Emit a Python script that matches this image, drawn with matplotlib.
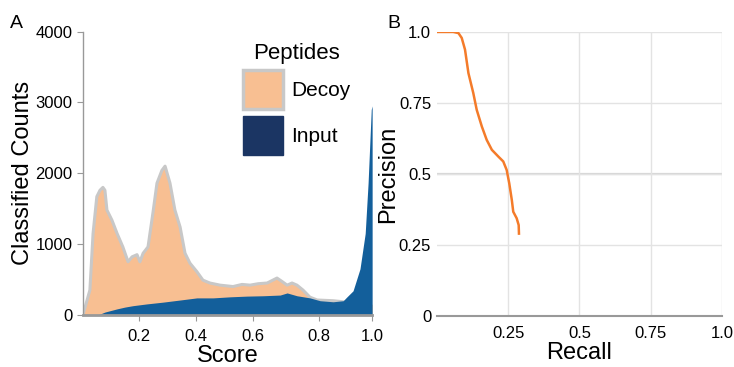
import numpy as np
import matplotlib.pyplot as plt
from matplotlib.patches import Patch

plt.rcParams['font.family'] = ['Liberation Sans', 'DejaVu Sans']

# panel A: score histogram (x given as position along score axis)
decoy_x = [0.0, 0.024, 0.035, 0.048, 0.059, 0.069, 0.076, 0.083, 0.100, 0.118,
           0.138, 0.156, 0.170, 0.187, 0.197, 0.208, 0.225, 0.242, 0.256, 0.273,
           0.284, 0.301, 0.318, 0.336, 0.353, 0.370, 0.394, 0.415, 0.439, 0.474,
           0.519, 0.550, 0.578, 0.606, 0.637, 0.671, 0.689, 0.706, 0.723, 0.740,
           0.761, 0.785, 0.810, 0.865, 0.900, 0.941, 1.0]
decoy_y = [0, 350, 1150, 1670, 1760, 1800, 1760, 1480, 1340, 1150,
           960, 750, 820, 850, 750, 870, 960, 1440, 1860, 2040,
           2100, 1860, 1480, 1240, 870, 730, 610, 490, 450, 420,
           400, 430, 420, 440, 450, 520, 470, 420, 450, 420,
           350, 250, 210, 200, 185, 170, 150]
input_x = [0.0, 0.052, 0.076, 0.118, 0.145, 0.173, 0.221, 0.277, 0.336, 0.394,
           0.450, 0.509, 0.567, 0.623, 0.682, 0.706, 0.740, 0.785, 0.820, 0.865,
           0.900, 0.913, 0.934, 0.958, 0.976, 0.986, 0.997, 1.0]
input_y = [0, 0, 40, 85, 110, 130, 155, 180, 210, 240,
           240, 255, 265, 270, 280, 310, 270, 240, 200, 185,
           200, 255, 340, 650, 1150, 1860, 2900, 2950]
score_ticks = [0.194, 0.392, 0.587, 0.816, 1.0]
score_labels = ['0.2', '0.4', '0.6', '0.8', '1.0']

# panel B: precision-recall
recall = [0.0, 0.0175, 0.058, 0.076, 0.0875, 0.099, 0.111, 0.128, 0.140, 0.158,
          0.175, 0.193, 0.216, 0.233, 0.245, 0.254, 0.263, 0.268, 0.280, 0.287, 0.288]
precision = [1.0, 1.0, 1.0, 0.996, 0.979, 0.938, 0.855, 0.785, 0.726, 0.667,
             0.62, 0.585, 0.561, 0.544, 0.514, 0.467, 0.408, 0.367, 0.344, 0.32, 0.29]

fig = plt.figure(figsize=(7.34, 3.67), dpi=100)
axA = fig.add_axes([0.113, 0.142, 0.394, 0.772])
axB = fig.add_axes([0.595, 0.139, 0.389, 0.774])

peach = '#f8bf92'
blue = '#135f9b'
navy = '#1b3563'
edge = '#c8c8c8'

axA.fill_between(decoy_x, decoy_y, color=peach, lw=0, zorder=1)
axA.plot(decoy_x, decoy_y, color=edge, lw=2.2, zorder=2)
axA.fill_between(input_x, input_y, color=blue, lw=0, zorder=3)
axA.set_xlim(0, 1)
axA.set_ylim(0, 4000)
axA.set_yticks([0, 1000, 2000, 3000, 4000])
axA.set_xticks(score_ticks)
axA.set_xticklabels(score_labels)
for s in ['top', 'right']:
    axA.spines[s].set_visible(False)
axA.spines['left'].set_color('#999999')
axA.spines['left'].set_linewidth(1)
axA.spines['bottom'].set_color('#999999')
axA.spines['bottom'].set_linewidth(2)
axA.spines['bottom'].set_zorder(4)
axA.tick_params(colors='#999999', labelcolor='black', labelsize=12, length=4)
axA.tick_params(axis='x', pad=6)
axA.set_xlabel('Score', fontsize=17, labelpad=1)
axA.set_ylabel('Classified Counts', fontsize=17, labelpad=1)
handles = [Patch(facecolor=peach, edgecolor=edge, linewidth=2.5, label='Decoy'),
           Patch(facecolor=navy, edgecolor=navy, label='Input')]
leg = axA.legend(handles=handles, title='Peptides', loc='upper right',
                 bbox_to_anchor=(0.99, 1.025), frameon=False, fontsize=15,
                 title_fontsize=16, handlelength=1.9, handleheight=2.5,
                 handletextpad=0.4, labelspacing=0.3)

axB.plot(recall, precision, color='#f47b2a', lw=1.8)
axB.set_xlim(0, 1)
axB.set_ylim(0, 1)
axB.set_xticks([0.25, 0.5, 0.75, 1.0])
axB.set_xticklabels(['0.25', '0.5', '0.75', '1.0'])
axB.set_yticks([0, 0.25, 0.5, 0.75, 1.0])
axB.set_yticklabels(['0', '0.25', '0.5', '0.75', '1.0'])
axB.grid(True, color='#e3e3e3', lw=1)
axB.axhline(0.5, color='#d6d6d6', lw=1.6, zorder=0.5)
axB.set_axisbelow(True)
for s in ['top', 'right', 'left']:
    axB.spines[s].set_visible(False)
axB.spines['bottom'].set_color('#999999')
axB.spines['bottom'].set_linewidth(1.5)
axB.tick_params(length=0, labelsize=12, pad=4)
axB.tick_params(axis='x', pad=7)
axB.set_xlabel('Recall', fontsize=17, labelpad=1)
axB.set_ylabel('Precision', fontsize=17, labelpad=0)

fig.text(0.014, 0.958, 'A', fontsize=14, va='top')
fig.text(0.528, 0.958, 'B', fontsize=14, va='top')

fig.savefig('out.png', dpi=100)
